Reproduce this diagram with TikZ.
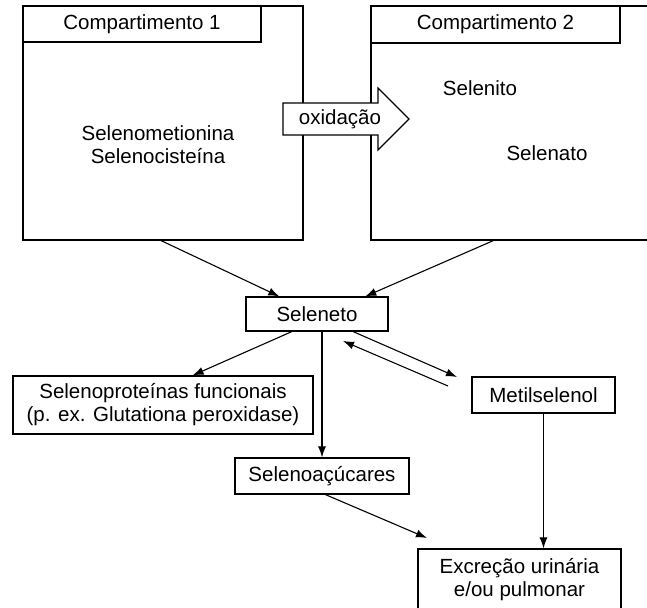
\documentclass[tikz,border=0pt]{standalone}
\usepackage{fontspec}
\setmainfont{Liberation Sans}
\usetikzlibrary{arrows.meta}

\tikzset{
  box/.style={draw, line width=1.1pt, inner sep=0pt, align=center},
  conn/.style={line width=1.1pt, -{Latex[length=11pt,width=8pt]}},
}

\begin{document}
\begin{tikzpicture}[x=1pt,y=1pt,font=\fontsize{20.5}{23}\selectfont]
\useasboundingbox (0,0) rectangle (647,607);

% compartimentos
\node[box,minimum width=280pt,minimum height=234pt] (comp1) at (163,484) {};
\node[box,minimum width=238pt,minimum height=36pt] (tit1) at (142,583) {Compartimento 1};
\node[align=center] (selmet) at (158,462) {Selenometionina\\Selenocisteína};

\node[box,minimum width=278pt,minimum height=234pt] (comp2) at (510,484) {};
\node[box,minimum width=249pt,minimum height=37pt] (tit2) at (495.5,582.5) {Compartimento 2};
\node (selito) at (480,519) {Selenito};
\node (selato) at (547,454) {Selenato};

% seta da oxidacao
\draw[line width=1.1pt,fill=white] (283,472) -- (378,472) -- (378,457) -- (409,488)
  -- (378,519) -- (378,504) -- (283,504) -- cycle;
\node (oxi) at (340,488) {oxidação};

% caixas de baixo
\node[box,minimum width=142pt,minimum height=34pt] (sel) at (317,293) {Seleneto};
\node[box,minimum width=300pt,minimum height=58pt] (selprot) at (163,202)
  {Selenoproteínas funcionais\\(p. ex. Glutationa peroxidase)};
\node[box,minimum width=143pt,minimum height=36pt] (metil) at (543.5,212) {Metilselenol};
\node[box,minimum width=174pt,minimum height=36pt] (acucar) at (322,131) {Selenoaçúcares};
\node[box,minimum width=203pt,minimum height=61pt] (excr) at (519.5,27.5)
  {Excreção urinária\\e/ou pulmonar};

% pontas soltas
\coordinate (m1) at (457,230);
\coordinate (m2) at (448,221);
\coordinate (s1) at (343,266);
\coordinate (e1) at (427,69);

% ligacoes
\draw[conn] (comp1.269) -- (sel.155);
\draw[conn] (comp2.262) -- (sel.20);
\draw[conn] (sel.215) -- (selprot.45);
\draw[conn] (sel.south -| acucar.north) -- (acucar.north);
\draw[conn] (sel.334) -- (m1);
\draw[conn] (m2) -- (s1);
\draw[conn] (acucar.280) -- (e1);
\draw[conn] (metil.south) -- (metil.south |- excr.north);
\end{tikzpicture}
\end{document}
